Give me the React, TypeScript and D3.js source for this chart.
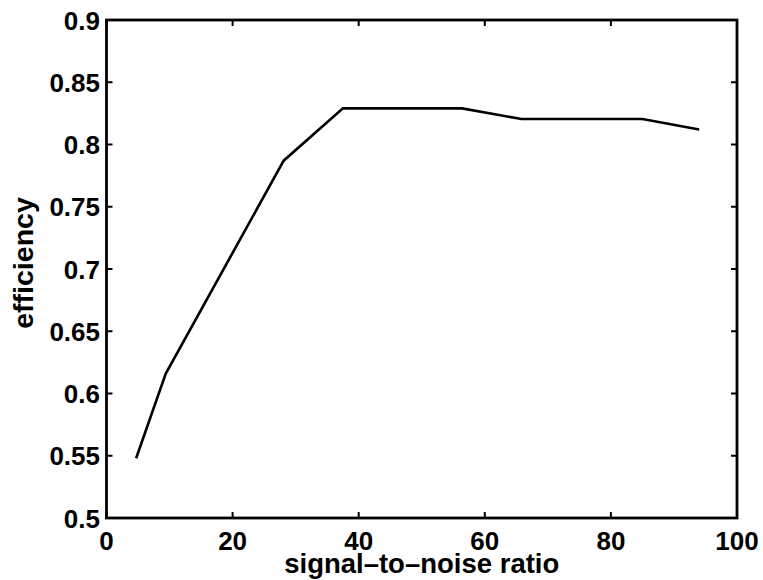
import React from "react";
import * as d3 from "d3";

const snr = [4.7, 9.4, 28.1, 37.5, 56.4, 65.8, 85.0, 94.0];
const efficiency = [0.548, 0.616, 0.787, 0.829, 0.829, 0.8205, 0.8205, 0.812];
const xTicks = [0, 20, 40, 60, 80, 100];
const yTicks = [0.5, 0.55, 0.6, 0.65, 0.7, 0.75, 0.8, 0.85, 0.9];
const xTitle = "signal\u2013to\u2013noise ratio";
const yTitle = "efficiency";

const W = 763, H = 580;
const L = 106.5, R = 737, T = 20, B = 518;
const font = "'Liberation Sans', Arial, Helvetica, sans-serif";

export default function App() {
  const x = d3.scaleLinear().domain([0, 100]).range([L, R]);
  const y = d3.scaleLinear().domain([0.5, 0.9]).range([B, T]);
  const line = d3.line<number>().x((_, i) => x(snr[i])).y((d) => y(d));
  const tl = 6;
  return (
    <svg width={W} height={H} style={{ position: "absolute", left: 0, top: 0, background: "#fff" }}>
      <rect x={0} y={0} width={W} height={H} fill="#fff" />
      <path d={line(efficiency) || ""} fill="none" stroke="#000" strokeWidth={2.6} strokeLinejoin="miter" />
      <rect x={L} y={T} width={R - L} height={B - T} fill="none" stroke="#000" strokeWidth={2.8} />
      {xTicks.map((t) => (
        <g key={"x" + t}>
          <line x1={x(t)} x2={x(t)} y1={B} y2={B - tl} stroke="#000" strokeWidth={2} />
          <line x1={x(t)} x2={x(t)} y1={T} y2={T + tl} stroke="#000" strokeWidth={2} />
          <text x={x(t)} y={550} textAnchor="middle" fontFamily={font} fontWeight="bold" fontSize={26} fill="#000">
            {String(t)}
          </text>
        </g>
      ))}
      {yTicks.map((t) => (
        <g key={"y" + t}>
          <line x1={L} x2={L + tl} y1={y(t)} y2={y(t)} stroke="#000" strokeWidth={2} />
          <line x1={R} x2={R - tl} y1={y(t)} y2={y(t)} stroke="#000" strokeWidth={2} />
          <text x={100} y={y(t) + 9.5} textAnchor="end" fontFamily={font} fontWeight="bold" fontSize={26} fill="#000">
            {String(t)}
          </text>
        </g>
      ))}
      <text x={(L + R) / 2} y={573} textAnchor="middle" fontFamily={font} fontWeight="bold" fontSize={27.5} fill="#000">
        {xTitle}
      </text>
      <text transform={`translate(33, 263) rotate(-90)`} textAnchor="middle" fontFamily={font} fontWeight="bold" fontSize={28.5} fill="#000">
        {yTitle}
      </text>
    </svg>
  );
}
